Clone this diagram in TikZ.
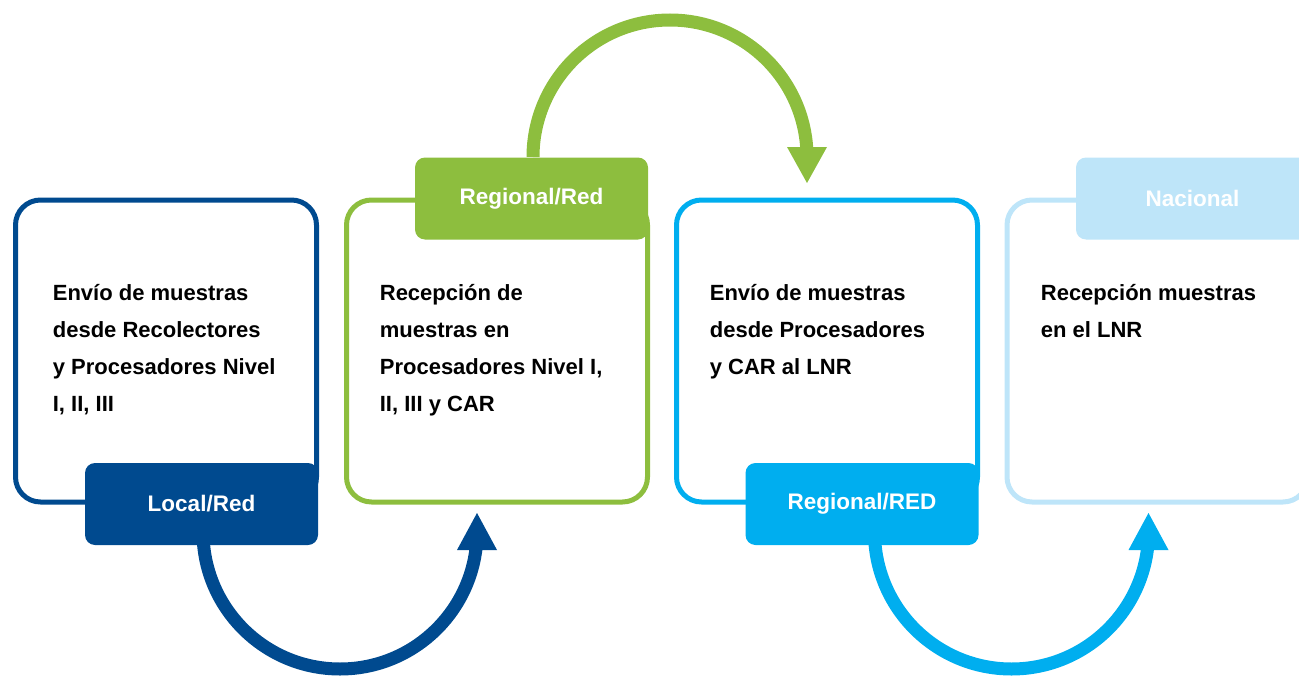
\documentclass[tikz,border=0pt]{standalone}
\usepackage{fontspec}
\setmainfont{Liberation Sans}

\definecolor{dblue}{RGB}{0,74,143}
\definecolor{lgreen}{RGB}{141,190,62}
\definecolor{cyanb}{RGB}{0,174,239}
\definecolor{pale}{RGB}{190,229,249}

\tikzset{every picture/.style={line width=0.75pt},
  panel/.style={draw, line width=5, rounded corners=25, minimum width=301, minimum height=302, outer sep=0, fill=white},
  tab/.style={rounded corners=10, minimum width=233, minimum height=82, outer sep=0, text=white, font=\bfseries\fontsize{22.5}{26}\selectfont},
  steptext/.style={anchor=north west, inner sep=0, align=left, font=\bfseries\fontsize{22}{37}\selectfont},
  loop/.style={line width=13}
}

\begin{document}
\begin{tikzpicture}[x=1pt,y=1pt,yscale=-1,xscale=1]
\useasboundingbox (0,0) rectangle (1299,677);
\clip (0,0) rectangle (1299,677);

% Boxes
\node [panel, draw=dblue] (box1) at (166,351) {};
\node [panel, draw=lgreen] (box2) at (497,351) {};
\node [panel, draw=cyanb] (box3) at (827,351) {};
\node [panel, draw=pale] (box4) at (1157.5,351) {};

% Text Node
\node [steptext] (txt1) at (52.5,284) {Envío de muestras\\desde Recolectores\\y Procesadores Nivel\\I, II, III};
% Text Node
\node [steptext] (txt2) at (379.5,284) {Recepción de\\muestras en\\Procesadores Nivel I,\\II, III y CAR};
% Text Node
\node [steptext] (txt3) at (709.5,284) {Envío de muestras\\desde Procesadores\\y CAR al LNR};
% Text Node
\node [steptext] (txt4) at (1040.5,284) {Recepción muestras\\en el LNR};

% Curve Lines
\coordinate (s1) at (203,532);
\draw [loop, dblue] (s1) arc [start angle=180, end angle=0, radius=137];
\draw [shift={(477,513)}, rotate = 90] [fill=dblue] [draw opacity=0] (37,-20) -- (0,0) -- (37,20) -- cycle ;
% Curve Lines
\coordinate (s2) at (533,157);
\draw [loop, lgreen] (s2) arc [start angle=180, end angle=360, radius=137];
\draw [shift={(807,183)}, rotate = 270] [fill=lgreen] [draw opacity=0] (36,-20) -- (0,0) -- (36,20) -- cycle ;
% Curve Lines
\coordinate (s3) at (874.5,532);
\draw [loop, cyanb] (s3) arc [start angle=180, end angle=0, radius=137];
\draw [shift={(1148.5,513)}, rotate = 90] [fill=cyanb] [draw opacity=0] (37,-20) -- (0,0) -- (37,20) -- cycle ;

% Tabs
\node [tab, fill=dblue] (tab1) at (201.5,504) {Local/Red};
\node [tab, fill=lgreen] (tab2) at (531.5,198.5) {Regional/Red};
\node [tab, fill=cyanb] (tab3) at (862,504) {Regional/RED};
\node [tab, fill=pale] (tab4) at (1192.5,198.5) {Nacional};

\end{tikzpicture}
\end{document}
